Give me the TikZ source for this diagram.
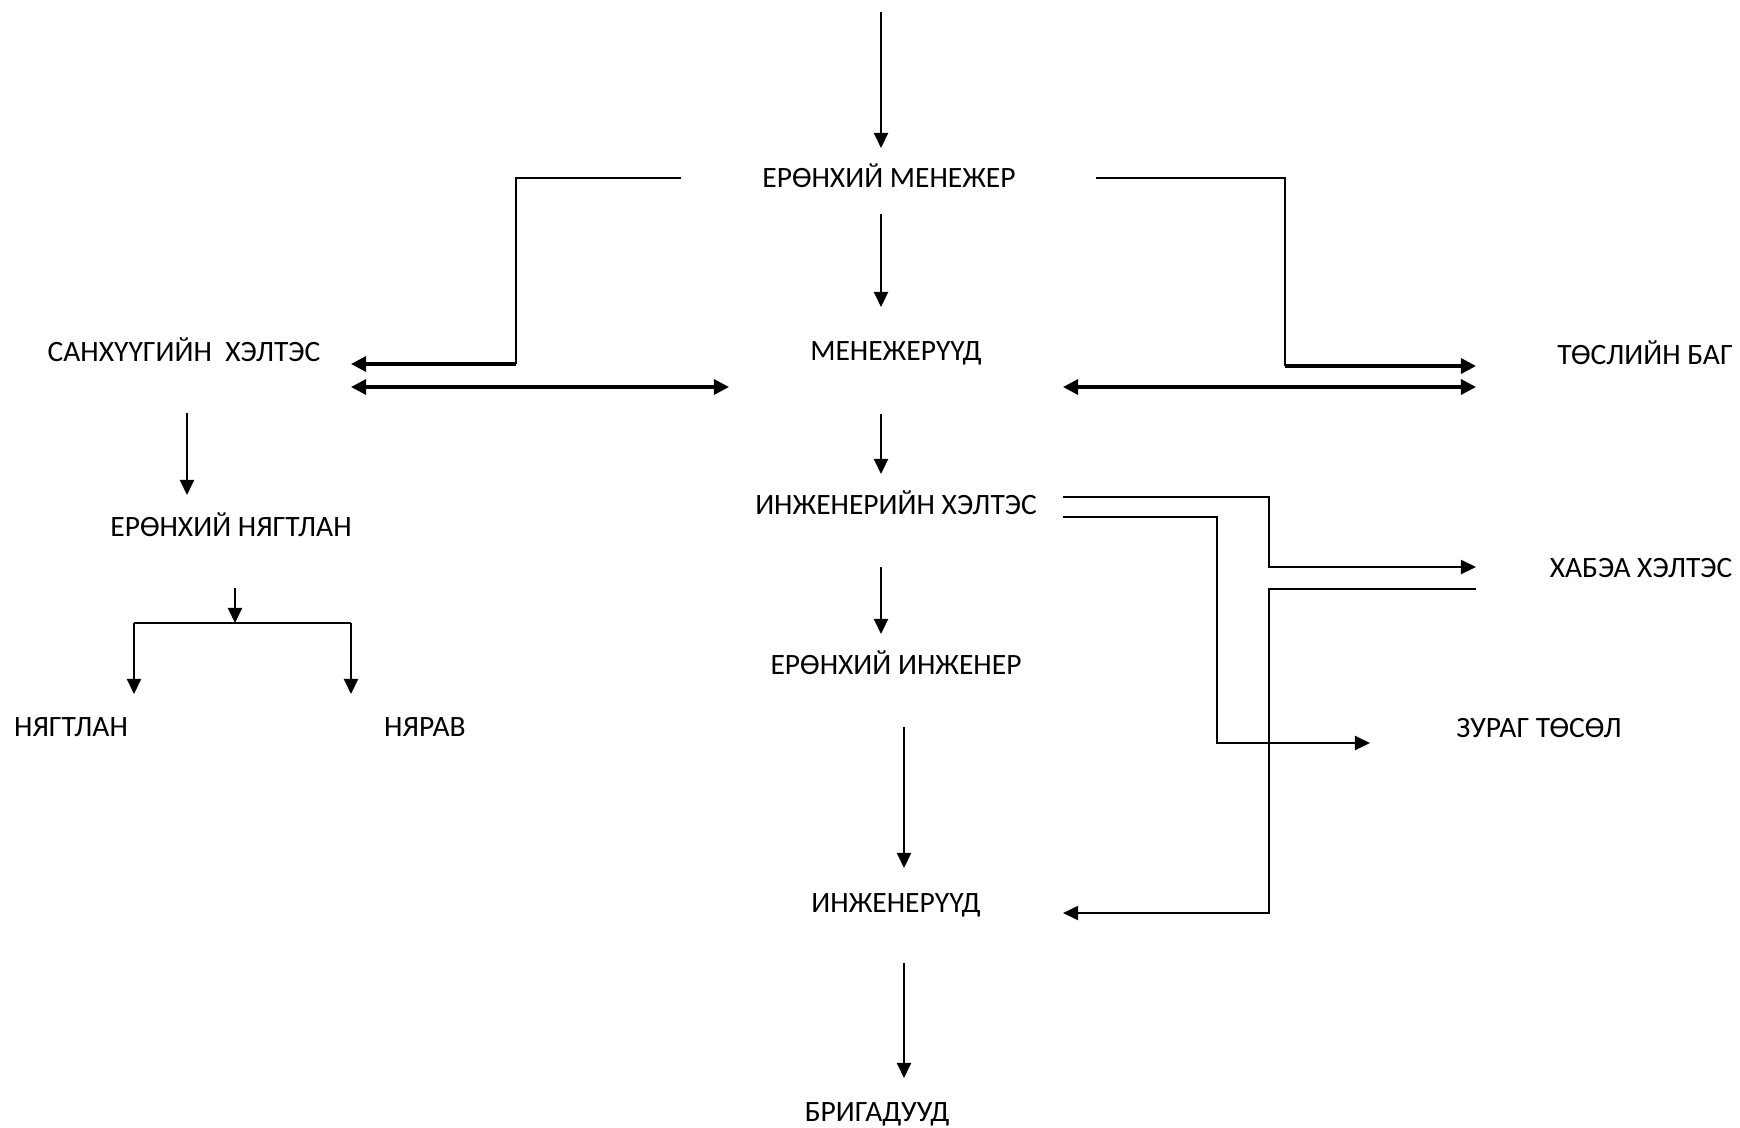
\documentclass[tikz,border=0pt]{standalone}
\usepackage{fontspec}
\setmainfont{Carlito}
\usetikzlibrary{arrows.meta}
\begin{document}
\begin{tikzpicture}[x=0.1mm, y=-0.1mm,
  lbl/.style={font=\fontsize{8.4}{10}\selectfont, inner sep=0pt, text height=5.4pt, text depth=0pt, anchor=center},
  ln/.style={line width=0.6pt},
  arr/.style={ln, -{Triangle[length=4.3pt, width=4pt]}},
  darr/.style={line width=0.9pt, {Triangle[length=4.3pt, width=4.3pt]}-{Triangle[length=4.3pt, width=4.3pt]}},
  harr/.style={line width=0.9pt, -{Triangle[length=4.3pt, width=4.3pt]}}]
\useasboundingbox (0,0) rectangle (1740,1127);
\fill[white] (0,0) rectangle (1740,1127);

% nodes
\node[lbl] (gm) at (889,178) {ЕРӨНХИЙ МЕНЕЖЕР};
\node[lbl] (mgr) at (896,351) {МЕНЕЖЕРҮҮД};
\node[lbl] (fin) at (184,352) {САНХҮҮГИЙН\ \ ХЭЛТЭС};
\node[lbl] (proj) at (1645,355) {ТӨСЛИЙН БАГ};
\node[lbl] (eng) at (896,505) {ИНЖЕНЕРИЙН ХЭЛТЭС};
\node[lbl] (chacc) at (231,527) {ЕРӨНХИЙ НЯГТЛАН};
\node[lbl] (safety) at (1641,568) {ХАБЭА ХЭЛТЭС};
\node[lbl] (cheng) at (896,665) {ЕРӨНХИЙ ИНЖЕНЕР};
\node[lbl] (acc) at (71,727) {НЯГТЛАН};
\node[lbl] (store) at (425,727) {НЯРАВ};
\node[lbl] (drw) at (1539,728) {ЗУРАГ ТӨСӨЛ};
\node[lbl] (engs) at (896,903) {ИНЖЕНЕРҮҮД};
\node[lbl] (brig) at (877,1112) {БРИГАДУУД};

\coordinate (topin) at (881,12);
\coordinate (split) at (235,623);

% centre column
\draw[arr] (topin) -- (topin |- 0,148);
\draw[arr] (881,214) -- (881,307);
\draw[arr] (881,414) -- (881,474);
\draw[arr] (881,567) -- (881,634);
\draw[arr] (904,727) -- (904,868);
\draw[arr] (904,963) -- (904,1078);

% general manager to sides
\draw[ln] (681,178) -- (516,178) -- (516,364);
\draw[harr] (516,364) -- (351,364);
\draw[ln] (1096,178) -- (1285,178) -- (1285,366);
\draw[harr] (1285,366) -- (1476,366);

% managers both ways
\draw[darr] (351,387) -- (729,387);
\draw[darr] (1063,387) -- (1476,387);

% engineering department
\draw[arr] (1063,497) -- (1269,497) -- (1269,567) -- (1476,567);
\draw[arr] (1063,517) -- (1217,517) -- (1217,743) -- (1370,743);
\draw[arr] (1476,589) -- (1269,589) -- (1269,913) -- (1063,913);

% finance branch
\draw[arr] (187,413) -- (187,495);
\draw[arr] (235,588) -- (split);
\draw[ln] (134,623) -- (351,623);
\draw[arr] (134,623) -- (134,694);
\draw[arr] (351,623) -- (351,694);
\end{tikzpicture}
\end{document}
